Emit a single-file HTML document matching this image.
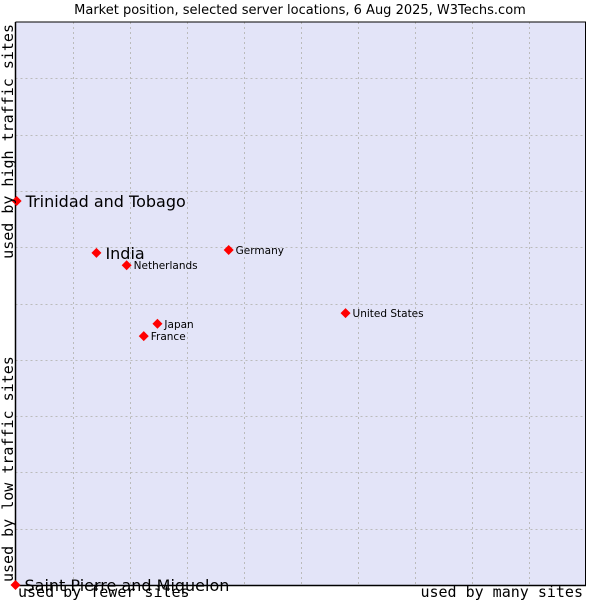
<!DOCTYPE html>
<html><head><meta charset="utf-8"><style>
body{margin:0;background:#fff}
svg{display:block}
</style></head><body>
<svg id="chart" width="600" height="600" xmlns="http://www.w3.org/2000/svg">
<text x="300" y="14" text-anchor="middle" font-family="DejaVu Sans, sans-serif" font-size="13" fill="#000">Market position, selected server locations, 6 Aug 2025, W3Techs.com</text>
<rect x="15.5" y="22" width="570" height="563" fill="#e3e4f8"/>
<g id="grid"></g>
<line x1="15.5" y1="22" x2="15.5" y2="585.5" stroke="#000" stroke-width="1.5"/>
<line x1="15.5" y1="585.5" x2="586" y2="585.5" stroke="#000" stroke-width="1.5"/>
<line x1="15.5" y1="22" x2="586" y2="22" stroke="#000" stroke-width="1"/>
<line x1="585.5" y1="22" x2="585.5" y2="585" stroke="#000" stroke-width="1"/>
<g id="points"></g>
<text x="18" y="597" font-family="DejaVu Sans Mono, monospace" font-size="15">used by fewer sites</text>
<text x="583" y="597" text-anchor="end" font-family="DejaVu Sans Mono, monospace" font-size="15">used by many sites</text>
<text transform="translate(13,582) rotate(-90)" font-family="DejaVu Sans Mono, monospace" font-size="15">used by low traffic sites</text>
<text transform="translate(13,24) rotate(-90)" text-anchor="end" font-family="DejaVu Sans Mono, monospace" font-size="15">used by high traffic sites</text>
</svg>
<script>
const countries = ["Trinidad and Tobago","India","Netherlands","Germany","United States","Japan","France","Saint Pierre and Miquelon"];
const xValues = [0.02,1.42,1.95,3.74,5.79,2.49,2.25,0];
const yValues = [6.82,5.9,5.68,5.95,4.83,4.64,4.42,0];
const bigLabel = [true,true,false,false,false,false,false,true];
const NS="http://www.w3.org/2000/svg";
const L=15.5,R=585.5,T=22,B=585;
function xs(v){return L+(R-L)*v/10;}
function ys(v){return B-(B-T)*v/10;}
const grid=document.getElementById('grid');
for(let i=1;i<10;i++){
  const v=document.createElementNS(NS,'line');
  v.setAttribute('x1',Math.round(xs(i))+.5);v.setAttribute('x2',Math.round(xs(i))+.5);
  v.setAttribute('y1',T);v.setAttribute('y2',B);
  v.setAttribute('stroke','#bbb');v.setAttribute('stroke-dasharray','2,3');
  
  
  grid.appendChild(v);
  const h=document.createElementNS(NS,'line');
  h.setAttribute('y1',Math.round(ys(i))+.5);h.setAttribute('y2',Math.round(ys(i))+.5);
  h.setAttribute('x1',L);h.setAttribute('x2',R);
  h.setAttribute('stroke','#bbb');h.setAttribute('stroke-dasharray','2,3');
  
  
  grid.appendChild(h);
}
const pts=document.getElementById('points');
countries.forEach((c,i)=>{
  const x=xs(xValues[i]),y=ys(yValues[i]);
  const d=document.createElementNS(NS,'polygon');
  d.setAttribute('points',`${x},${y-5} ${x+5},${y} ${x},${y+5} ${x-5},${y}`);
  d.setAttribute('fill','#f00');
  
  
  pts.appendChild(d);
  const t=document.createElementNS(NS,'text');
  t.setAttribute('x',x+(bigLabel[i]?9:7));
  t.setAttribute('y',y+(bigLabel[i]?6:4));
  t.setAttribute('font-family','DejaVu Sans, sans-serif');
  t.setAttribute('font-size',bigLabel[i]?'16':'10.5');
  t.setAttribute('fill','#000');
  t.textContent=c;
  
  
  pts.appendChild(t);
});
</script>
</body></html>
